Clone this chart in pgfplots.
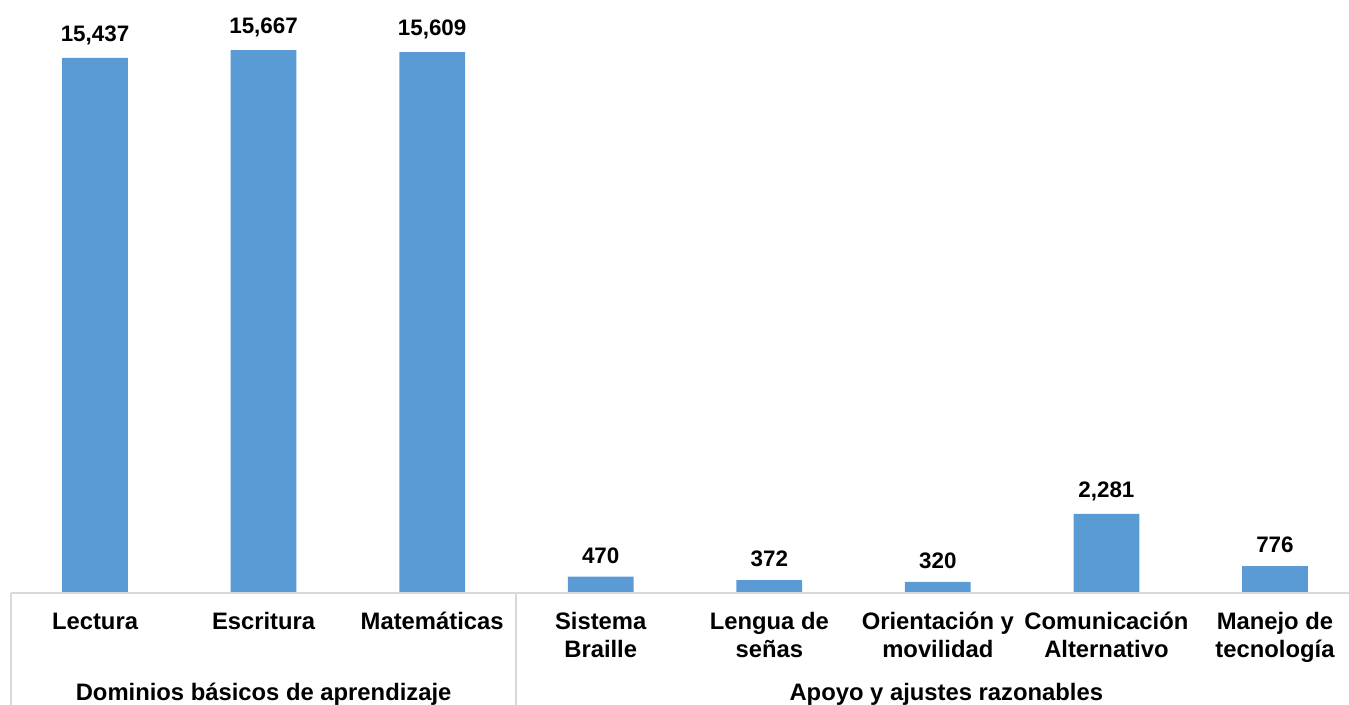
\documentclass[border=0pt]{standalone}
\usepackage{pgfplots}
\pgfplotsset{compat=1.18}
\usepackage{fontspec}
\setmainfont{Liberation Sans}
\definecolor{barblue}{HTML}{5B9BD5}
\definecolor{axgray}{HTML}{D9D9D9}
\begin{document}
\begin{tikzpicture}
\useasboundingbox (0,0) rectangle (674.5pt,352.5pt);
\clip (0,0) rectangle (674.5pt,352.5pt);
\begin{axis}[
  at={(5.375pt,56pt)}, anchor=south west,
  scale only axis, width=674.25pt, height=296.5pt,
  xmin=-0.5, xmax=7.5, ymin=0, ymax=17110,
  hide y axis, x axis line style={draw=none}, major tick length=0pt,
  clip=false,
  ybar, bar width=0.39,
  xtick=data,
  typeset ticklabels with strut,
  xticklabels={Lectura,Escritura,Matemáticas,Sistema\\Braille,Lengua de\\señas,Orientación y\\movilidad,Comunicación\\Alternativo,Manejo de\\tecnología},
  xticklabel style={align=center, anchor=north, font=\fontsize{11.9}{14}\selectfont\bfseries, yshift=-5pt},
  nodes near coords,
  every node near coord/.append style={font=\fontsize{11.2}{12}\selectfont\bfseries, yshift=3pt},
  /pgf/number format/1000 sep={,},
  /pgf/number format/assume math mode=true,
]
\addplot[fill=barblue, draw=none] coordinates {(0,15437) (1,15667) (2,15609) (3,470) (4,372) (5,320) (6,2281) (7,776)};
\draw[axgray, line width=1pt] (axis cs:-0.5,0) -- (axis cs:7.5,0);
\draw[axgray, line width=1pt] (axis cs:-0.5,0) -- ([yshift=-60pt]axis cs:-0.5,0);
\draw[axgray, line width=1pt] (axis cs:2.5,0) -- ([yshift=-60pt]axis cs:2.5,0);
\node[font=\fontsize{11.9}{12}\selectfont\bfseries, anchor=base] at ([yshift=-54pt]axis cs:1,0) {Dominios básicos de aprendizaje};
\node[font=\fontsize{11.9}{12}\selectfont\bfseries, anchor=base] at ([yshift=-54pt]axis cs:5.05,0) {Apoyo y ajustes razonables};
\end{axis}
\end{tikzpicture}
\end{document}
